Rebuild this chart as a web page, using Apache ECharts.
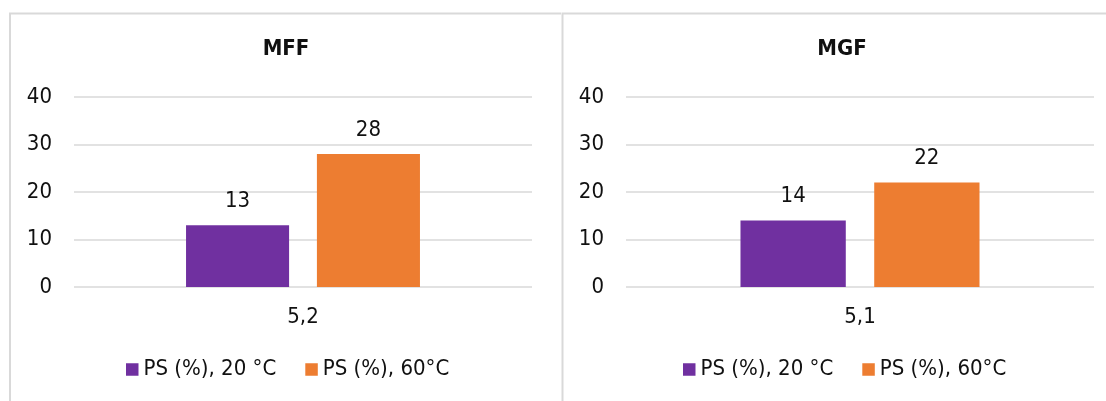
<!DOCTYPE html>
<html>
<head>
<meta charset="utf-8">
<script src="https://cdn.jsdelivr.net/npm/echarts@6/dist/echarts.min.js"></script>
<style>
  html, body { margin: 0; padding: 0; background: #fff; }
  #chart { width: 1106px; height: 401px; }
</style>
</head>
<body>
<div id="chart"></div>
<script>
// Panel titles and category labels
const panelTitles = ['MFF', 'MGF'];
const categoriesMFF = ['5,2'];
const categoriesMGF = ['5,1'];

// Series names and values (PS %)
const seriesNames = ['PS (%), 20 °C', 'PS (%), 60°C'];
const mff20 = [13];
const mff60 = [28];
const mgf20 = [14];
const mgf60 = [22];

// Value axis ticks
const yMin = 0;
const yMax = 40;
const yStep = 10;

const FONT = '"DejaVu Sans Condensed", "DejaVu Sans", sans-serif';
const TEXT = '#111';
const GRIDLINE = '#d9d9d9';
const COLORS = ['#7030A0', '#ED7D31'];

const chart = echarts.init(document.getElementById('chart'), null, { renderer: 'canvas' });

function yAxis(gridIndex) {
  return {
    type: 'value', gridIndex, min: yMin, max: yMax, interval: yStep,
    axisLine: { show: false }, axisTick: { show: false },
    axisLabel: { color: TEXT, fontFamily: FONT, fontSize: 22, margin: 22 },
    splitLine: { lineStyle: { color: GRIDLINE, width: 1.5 } }
  };
}
function xAxis(gridIndex, cats) {
  return {
    type: 'category', gridIndex, data: cats,
    axisLine: { show: false }, axisTick: { show: false },
    axisLabel: { color: TEXT, fontFamily: FONT, fontSize: 22, margin: 19 }
  };
}
function bar(name, data, idx, color) {
  return {
    type: 'bar', name, data, xAxisIndex: idx, yAxisIndex: idx,
    barWidth: '22.5%', barGap: '27%',
    itemStyle: { color },
    label: {
      show: true, position: 'top', distance: 13,
      color: TEXT, fontFamily: FONT, fontSize: 22
    }
  };
}
function legend(left) {
  return {
    left, top: 353.5, orient: 'horizontal', padding: 5,
    data: seriesNames,
    icon: 'rect', itemWidth: 12.5, itemHeight: 12.5, itemGap: 29,
    textStyle: { color: TEXT, fontFamily: FONT, fontSize: 22, lineHeight: 22 },
    selectedMode: false
  };
}
function panelTitle(text, cx) {
  return {
    type: 'text', x: cx, y: 49, silent: true,
    style: {
      text, fill: TEXT, font: 'bold 22px ' + FONT,
      textAlign: 'center', textVerticalAlign: 'middle'
    }
  };
}
function panelBorder(x1, x2) {
  return {
    type: 'polyline', silent: true,
    shape: { points: [[x1, 420], [x1, 13.5], [x2, 13.5]] },
    style: { stroke: GRIDLINE, lineWidth: 2, fill: null }
  };
}

chart.setOption({
  animation: false,
  backgroundColor: '#fff',
  grid: [
    { left: 74, right: 1106 - 532, top: 97, bottom: 401 - 287 },
    { left: 626, right: 12, top: 97, bottom: 401 - 287 }
  ],
  xAxis: [xAxis(0, categoriesMFF), xAxis(1, categoriesMGF)],
  yAxis: [yAxis(0), yAxis(1)],
  legend: [legend(121), legend(678)],
  series: [
    bar(seriesNames[0], mff20, 0, COLORS[0]),
    bar(seriesNames[1], mff60, 0, COLORS[1]),
    bar(seriesNames[0], mgf20, 1, COLORS[0]),
    bar(seriesNames[1], mgf60, 1, COLORS[1])
  ],
  graphic: [
    panelBorder(10, 561),
    panelBorder(562.5, 1110),
    panelTitle(panelTitles[0], 286),
    panelTitle(panelTitles[1], 842)
  ]
});
</script>
</body>
</html>
